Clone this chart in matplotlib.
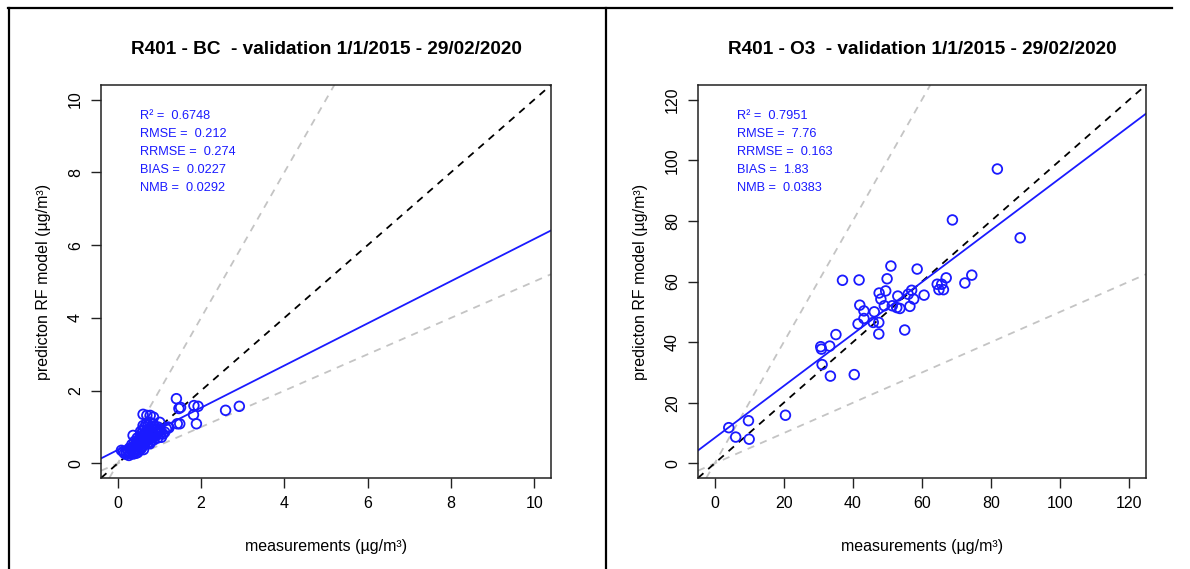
import matplotlib.pyplot as plt
from matplotlib.lines import Line2D

plt.rcParams['font.family'] = ['Liberation Sans', 'DejaVu Sans']

# --- data ---
bc_meas = [1.41, 1.47, 1.51, 1.83, 1.93, 1.82, 1.89, 2.59, 2.92, 1.43, 1.49, 1.23,
           0.61, 0.70, 0.78, 0.86, 1.01,
           0.13, 0.21, 0.29, 0.37, 0.33, 0.41, 0.45, 0.37, 0.49, 0.53, 0.57, 0.61,
           0.65, 0.61, 0.69, 0.73, 0.77, 0.81, 0.85, 0.89, 0.93, 0.97, 1.01, 1.05,
           1.09, 1.13, 1.17, 1.21, 0.09,
           0.25, 0.28, 0.31, 0.34, 0.36, 0.39, 0.40, 0.42, 0.44, 0.46, 0.47, 0.50,
           0.51, 0.52, 0.54, 0.55, 0.56, 0.58, 0.59, 0.60, 0.62, 0.63, 0.64, 0.66,
           0.67, 0.68, 0.70, 0.71, 0.72, 0.74, 0.75, 0.76, 0.78, 0.80, 0.82, 0.83,
           0.85, 0.87, 0.88, 0.90, 0.92, 0.95, 0.96, 0.98, 1.00, 1.03, 0.48, 0.44,
           0.38, 0.56, 0.62, 0.27, 0.20, 0.16, 0.77]
bc_pred = [1.78, 1.51, 1.54, 1.59, 1.57, 1.34, 1.09, 1.46, 1.57, 1.09, 1.09, 0.98,
           1.35, 1.32, 1.32, 1.27, 1.13,
           0.33, 0.31, 0.27, 0.31, 0.40, 0.45, 0.49, 0.77, 0.63, 0.72, 0.81, 0.91,
           1.00, 1.04, 1.09, 1.04, 1.13, 1.00, 1.09, 0.91, 0.86, 1.00, 0.81, 0.72,
           0.81, 0.86, 0.95, 1.00, 0.36,
           0.35, 0.42, 0.30, 0.52, 0.45, 0.38, 0.60, 0.33, 0.55, 0.41, 0.70, 0.48,
           0.58, 0.37, 0.52, 0.88, 0.62, 0.45, 0.70, 0.55, 0.78, 0.50, 0.66, 0.58,
           0.85, 0.72, 0.62, 0.93, 0.55, 0.80, 0.68, 0.95, 0.74, 0.60, 0.85, 0.70,
           0.78, 0.65, 1.02, 0.75, 0.95, 0.82, 0.70, 0.90, 0.95, 0.90, 0.30, 0.28,
           0.26, 0.40, 0.38, 0.22, 0.25, 0.28, 0.54]
bc_fit = (0.37, 0.58)   # intercept, slope of the blue regression line
bc_stats = ['R\u00b2 =  0.6748', 'RMSE =  0.212', 'RRMSE =  0.274',
            'BIAS =  0.0227', 'NMB =  0.0292']
bc_ticks = [0, 2, 4, 6, 8, 10]

o3_meas = [4.1, 6.1, 9.8, 10.0, 20.5, 30.7, 30.9, 33.3, 35.1, 31.1, 33.5, 40.4,
           41.5, 43.2, 45.9, 47.5, 47.5, 46.2, 42.0, 43.2, 55.0, 81.8, 68.8, 88.4,
           51.0, 58.6, 37.0, 41.8, 49.9, 67.0, 74.4, 72.4, 64.4, 65.7, 64.9, 66.2,
           60.6, 47.6, 49.5, 48.1, 53.0, 56.0, 57.0, 57.6, 56.5, 49.1, 51.4, 52.7,
           53.6]
o3_pred = [11.8, 8.7, 14.1, 8.0, 15.9, 38.5, 37.7, 38.7, 42.5, 32.6, 28.8, 29.3,
           46.0, 47.8, 46.5, 46.5, 42.7, 50.0, 52.2, 50.3, 44.0, 97.1, 80.3, 74.4,
           65.1, 64.1, 60.4, 60.5, 60.9, 61.2, 62.1, 59.5, 59.1, 59.1, 57.3, 57.3,
           55.5, 56.2, 56.9, 54.2, 55.2, 55.8, 57.1, 54.2, 51.8, 52.0, 52.0, 51.4,
           51.1]
o3_fit = (8.4, 0.857)
o3_stats = ['R\u00b2 =  0.7951', 'RMSE =  7.76', 'RRMSE =  0.163',
            'BIAS =  1.83', 'NMB =  0.0383']
o3_ticks = [0, 20, 40, 60, 80, 100, 120]

titles = ['R401 - BC  - validation 1/1/2015 - 29/02/2020',
          'R401 - O3  - validation 1/1/2015 - 29/02/2020']
xlabel = 'measurements (\u00b5g/m\u00b3)'
ylabel = 'predicton RF model (\u00b5g/m\u00b3)'


def draw_panel(ax, meas, pred, fit, ticks, stats, title):
    top = ticks[-1]
    lim = (-0.04 * top, 1.04 * top)
    ax.set_xlim(lim)
    ax.set_ylim(lim)
    dash = (0, (4, 3.5))
    ax.axline((0, 0), slope=2, color='#c4c4c4', ls=dash, lw=1.3)
    ax.axline((0, 0), slope=0.5, color='#c4c4c4', ls=dash, lw=1.3)
    ax.axline((0, 0), slope=1, color='black', ls=dash, lw=1.3)
    ax.axline((0, fit[0]), slope=fit[1], color='#1a1aff', lw=1.3)
    ax.scatter(meas, pred, s=48, facecolors='none', edgecolors='#1a1aff',
               linewidths=1.3, zorder=3)

    ax.set_xticks(ticks)
    ax.set_yticks(ticks)
    ax.tick_params(direction='out', length=7, width=1, labelsize=11.5,
                   pad=6, color='#222222')
    ax.tick_params(axis='y', labelrotation=90)
    for lab in ax.get_yticklabels():
        lab.set_va('center')
    for sp in ax.spines.values():
        sp.set_linewidth(1.1)
        sp.set_color('#222222')

    for i, s in enumerate(stats):
        ax.text(0.087, 0.921 - i * 0.0458, s, transform=ax.transAxes,
                color='#1a1aff', fontsize=9.2, va='center')

    ax.set_title(title, fontsize=13.7, fontweight='bold', pad=22,
                 family=['Liberation Sans Narrow', 'Liberation Sans'])
    ax.set_xlabel(xlabel, fontsize=11.5, labelpad=20)
    ax.set_ylabel(ylabel, fontsize=11.5, labelpad=12)


fig = plt.figure(figsize=(11.9, 5.69), dpi=100)
ax1 = fig.add_axes([101 / 1190, 1 - 478 / 569, 450 / 1190, 393 / 569])
ax2 = fig.add_axes([698 / 1190, 1 - 478 / 569, 448 / 1190, 393 / 569])

draw_panel(ax1, bc_meas, bc_pred, bc_fit, bc_ticks, bc_stats, titles[0])
draw_panel(ax2, o3_meas, o3_pred, o3_fit, o3_ticks, o3_stats, titles[1])

# table cell borders around the two plots
W, H = 1190, 569
for (x0, y0, x1, y1) in [(8, 8, 1172, 8), (9, 8, 9, 569), (606, 8, 606, 569)]:
    fig.add_artist(Line2D([x0 / W, x1 / W], [1 - y0 / H, 1 - y1 / H],
                          transform=fig.transFigure, color='black', lw=1.6))

fig.savefig('out.png', dpi=100)
